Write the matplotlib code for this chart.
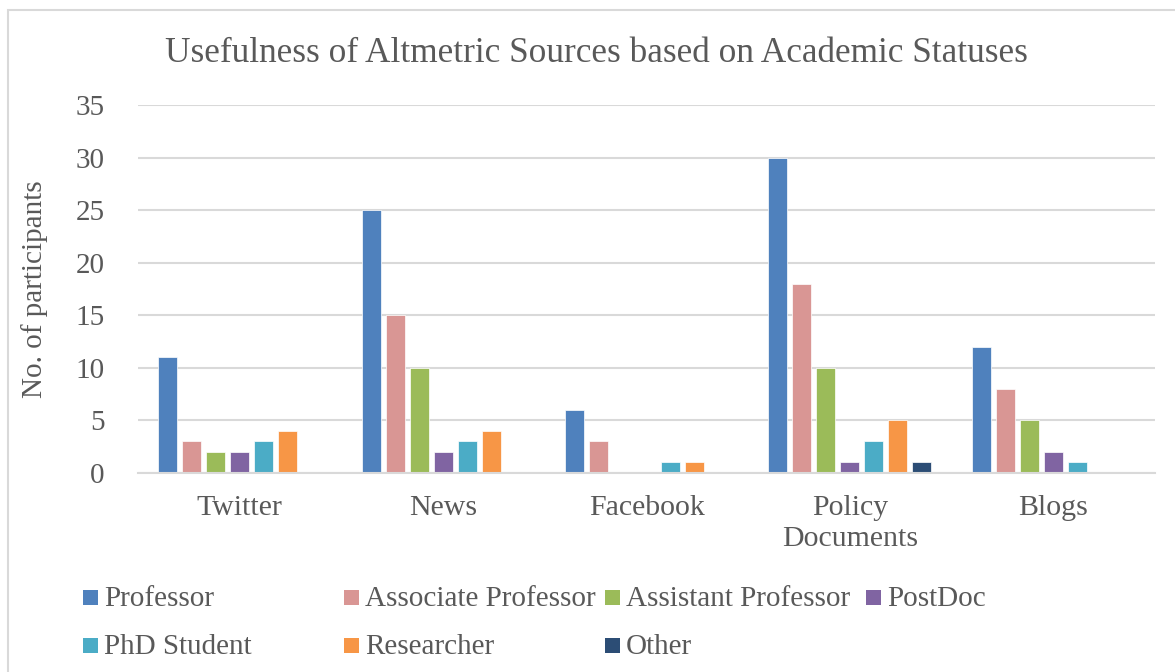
import matplotlib
matplotlib.use("Agg")
import matplotlib.pyplot as plt
import numpy as np
from matplotlib.patches import Rectangle

# data
sources = ["Twitter", "News", "Facebook", "Policy\nDocuments", "Blogs"]
statuses = ["Professor", "Associate Professor", "Assistant Professor",
            "PostDoc", "PhD Student", "Researcher", "Other"]
professor = [11, 25, 6, 30, 12]
associate = [3, 15, 3, 18, 8]
assistant = [2, 10, 0, 10, 5]
postdoc = [2, 2, 0, 1, 2]
phd = [3, 3, 1, 3, 1]
researcher = [4, 4, 1, 5, 0]
other = [0, 0, 0, 1, 0]
series = [professor, associate, assistant, postdoc, phd, researcher, other]
colors = ["#4F81BD", "#D99694", "#9BBB59", "#8064A2",
          "#4BACC6", "#F79646", "#2C4D75"]
yticks = [0, 5, 10, 15, 20, 25, 30, 35]

TXT = "#595959"
GRID = "#D9D9D9"
W, H = 1175, 672

plt.rcParams["font.family"] = ["Liberation Serif", "DejaVu Serif"]
fig = plt.figure(figsize=(W / 100, H / 100), dpi=100)
ax = fig.add_axes([138 / W, (H - 473) / H, (1155 - 138) / W, (473 - 105) / H])

x = np.arange(len(sources))
pitch = 0.118
width = 0.094
for i, (vals, col) in enumerate(zip(series, colors)):
    ax.bar(x + (i - 3) * pitch, vals, width, color=col,
           edgecolor="white", linewidth=0.5, zorder=3)

ax.set_xlim(-0.5, len(sources) - 0.5)
ax.set_ylim(0, 35)
ax.set_yticks(yticks)
ax.set_xticks(x)
ax.set_xticklabels(sources, fontsize=21.5, color=TXT, linespacing=1.25)
ax.tick_params(axis="y", length=0, pad=24, labelsize=21, labelcolor=TXT)
ax.tick_params(axis="x", length=0, pad=16)
ax.yaxis.grid(True, color=GRID, linewidth=1.5, zorder=0)
for s in ["top", "right", "left"]:
    ax.spines[s].set_visible(False)
ax.spines["bottom"].set_color(GRID)
ax.spines["bottom"].set_linewidth(1.5)
ax.spines["bottom"].set_zorder(4)

fig.text(35 / W, 1 - 289 / H, "No. of participants", rotation=90,
         ha="center", va="center", fontsize=21, color=TXT)
fig.text(596 / W, 1 - 54 / H, "Usefulness of Altmetric Sources based on Academic Statuses",
         ha="center", va="center", fontsize=25.4, color=TXT)

# legend, laid out like the Excel one (4 equal columns, row-major)
for i, (name, col) in enumerate(zip(statuses, colors)):
    cx = 83 + 261 * (i % 4)
    cy = 597.5 + 48 * (i // 4)
    fig.add_artist(Rectangle((cx / W, 1 - (cy + 7.5) / H), 15 / W, 15 / H,
                             transform=fig.transFigure, color=col, lw=0))
    fig.text((cx + 21) / W, 1 - (cy + 2) / H, name, ha="left", va="center",
             fontsize=21, color=TXT)

# outer chart border (runs off the right and bottom edges)
fig.add_artist(Rectangle((8 / W, -0.05), 1.2, 1 - 10 / H + 0.05,
                         transform=fig.transFigure, fill=False,
                         edgecolor=GRID, lw=1.5))

fig.savefig("out.png", dpi=100)
